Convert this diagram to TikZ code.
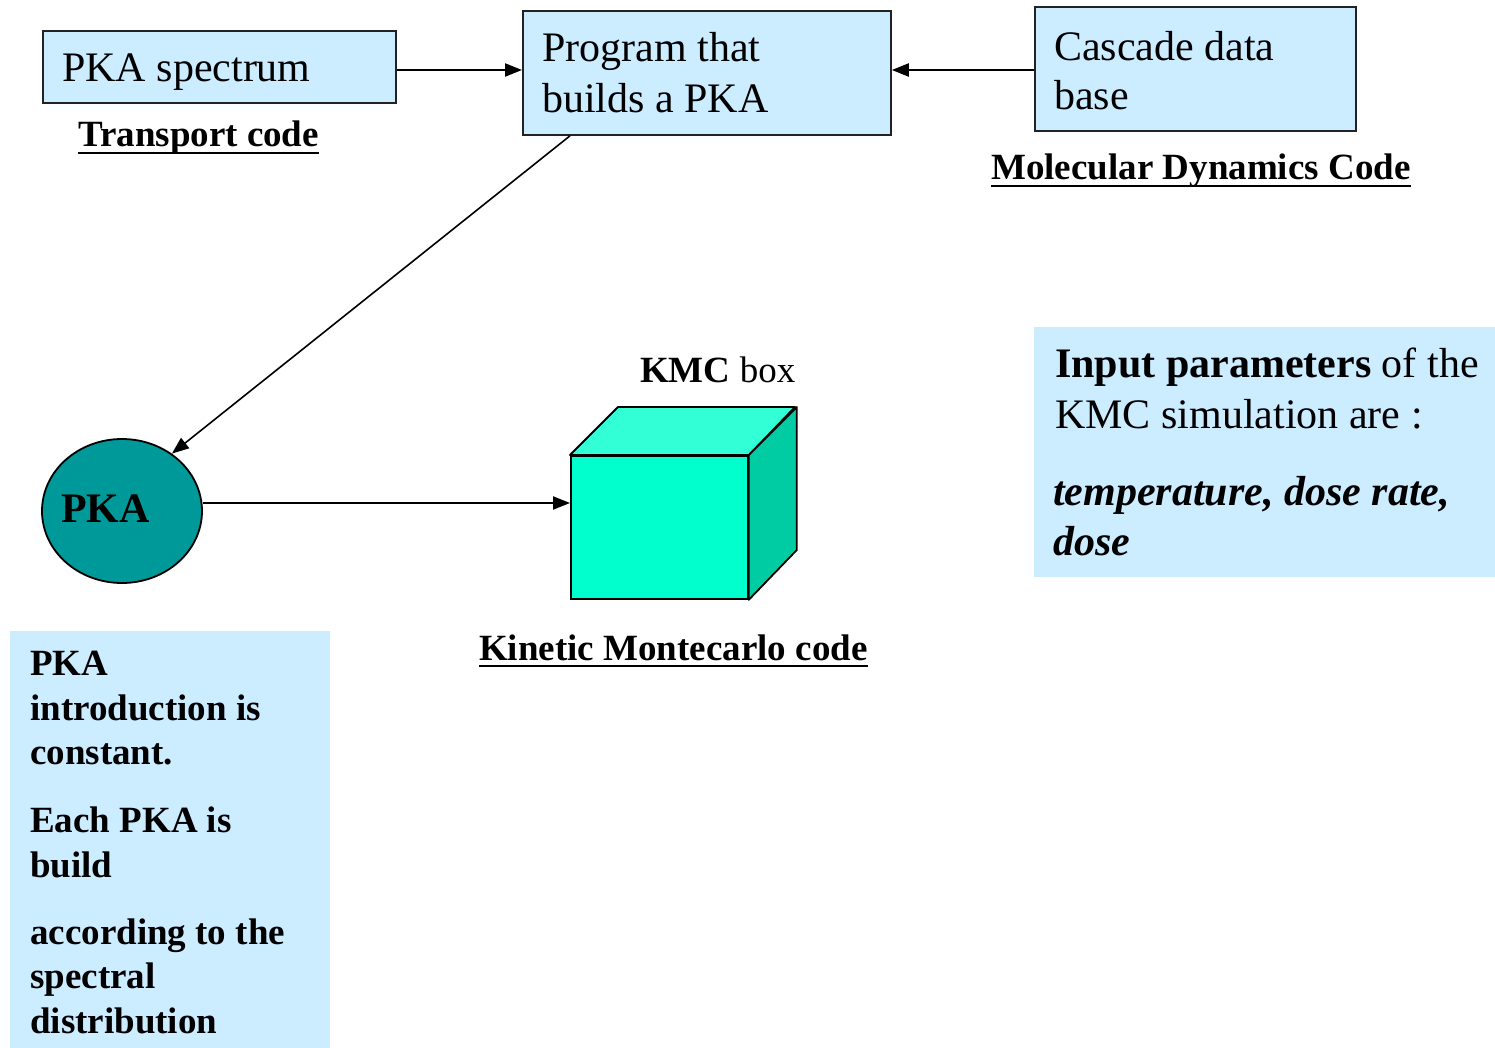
\documentclass[tikz,border=0pt]{standalone}
\usepackage{fontspec}
\setmainfont{Liberation Serif}
\usetikzlibrary{shapes.geometric,arrows.meta,calc}
\definecolor{paleblue}{HTML}{CCECFF}
\definecolor{tealfill}{HTML}{009999}
\definecolor{cubefront}{HTML}{00FFCC}
\definecolor{cubetop}{HTML}{33FFD6}
\definecolor{cubeside}{HTML}{00CCA3}
\definecolor{edgegray}{HTML}{222222}
\begin{document}
\begin{tikzpicture}[x=1pt,y=-1pt,
  box/.style={draw=edgegray,line width=1.8pt,fill=paleblue,rectangle,inner sep=0pt,anchor=north west},
  panel/.style={fill=paleblue,rectangle,inner sep=0pt,anchor=north west},
  txt/.style={inner sep=0pt,anchor=base west,font=\fontsize{42}{52}\selectfont},
  btxt/.style={inner sep=0pt,anchor=base west,font=\fontsize{37}{44}\selectfont\bfseries},
  uline/.style={line width=2.6pt},
  flow/.style={line width=2.2pt,-{Triangle[length=17pt,width=13pt]}},
  thinflow/.style={line width=1.6pt,-{Triangle[length=17pt,width=13pt]}},
  face/.style={draw=black,line width=1.8pt,line join=round}]
\useasboundingbox (0,0) rectangle (1495,1048);

% source boxes
\node[box,minimum width=353pt,minimum height=72pt] (spec) at (42,30) {};
\node[txt] (spect) at (62,82) {PKA spectrum};
\node[btxt] (transp) at (78,147) {Transport code};
\draw[uline] ([yshift=-6pt]transp.base west) -- ([yshift=-6pt]transp.base east);

\node[box,minimum width=368pt,minimum height=124pt] (prog) at (522,10) {};
\node[txt] (progt1) at (542,62) {Program that};
\node[txt] (progt2) at (542,113) {builds a PKA};

\node[box,minimum width=321pt,minimum height=124pt] (casc) at (1034,6) {};
\node[txt] (casct1) at (1054,61) {Cascade data};
\node[txt] (casct2) at (1054,110) {base};
\node[btxt] (md) at (991,180) {Molecular Dynamics Code};
\draw[uline] ([yshift=-6pt]md.base west) -- ([yshift=-6pt]md.base east);

% PKA ellipse
\node[ellipse,draw=black,line width=1.8pt,fill=tealfill,minimum width=160pt,minimum height=144pt,inner sep=0pt] (pka) at (122,511) {};
\node[txt,font=\fontsize{42}{52}\selectfont\bfseries] (pkat) at (61,522) {PKA};

% KMC cube
\node[rectangle,draw=black,line width=1.8pt,fill=cubefront,minimum width=177pt,minimum height=143pt,inner sep=0pt,anchor=north west] (front) at (570,455) {};
\draw[face,fill=cubetop] (front.north west) -- ++(48,-48) -- ++(177,0) -- (front.north east) -- cycle;
\draw[face,fill=cubeside] (front.north east) -- ++(48,-48) -- ++(0,143) -- (front.south east) -- cycle;
\node[inner sep=0pt,anchor=base west,font=\fontsize{37}{44}\selectfont] (kmcl) at (640,382) {\textbf{KMC} box};
\node[btxt] (kmc) at (479,660) {Kinetic Montecarlo code};
\draw[uline] ([yshift=-6pt]kmc.base west) -- ([yshift=-6pt]kmc.base east);

% connectors
\draw[flow] ([yshift=-40pt]spec.north east) -- ([yshift=-40pt]spec.north east -| prog.west);
\draw[flow] ([yshift=-64pt]casc.north west) -- ([yshift=-64pt]casc.north west -| prog.east);
\draw[thinflow] ([xshift=48pt]prog.south west) -- (pka.49);
\draw[flow] ([yshift=8pt]pka.east) -- ([yshift=8pt]pka.east -| front.west);

% note panels
\node[panel,minimum width=461pt,minimum height=250pt] (inp) at (1034,327) {};
\node[txt] (inp1) at (1055,377) {\textbf{Input parameters} of the};
\node[txt] (inp2) at (1055,428) {KMC simulation are :};
\node[txt,font=\fontsize{42}{52}\selectfont\bfseries\itshape] (inp3) at (1053,505) {temperature, dose rate,};
\node[txt,font=\fontsize{42}{52}\selectfont\bfseries\itshape] (inp4) at (1053,555) {dose};

\node[panel,minimum width=320pt,minimum height=417pt] (note) at (10,631) {};
\node[btxt] (n1) at (30,675) {PKA};
\node[btxt] (n2) at (30,720) {introduction is};
\node[btxt] (n3) at (30,764) {constant.};
\node[btxt] (n4) at (30,832) {Each PKA is};
\node[btxt] (n5) at (30,877) {build};
\node[btxt] (n6) at (30,944) {according to the};
\node[btxt] (n7) at (30,988) {spectral};
\node[btxt] (n8) at (30,1033) {distribution};
\end{tikzpicture}
\end{document}
